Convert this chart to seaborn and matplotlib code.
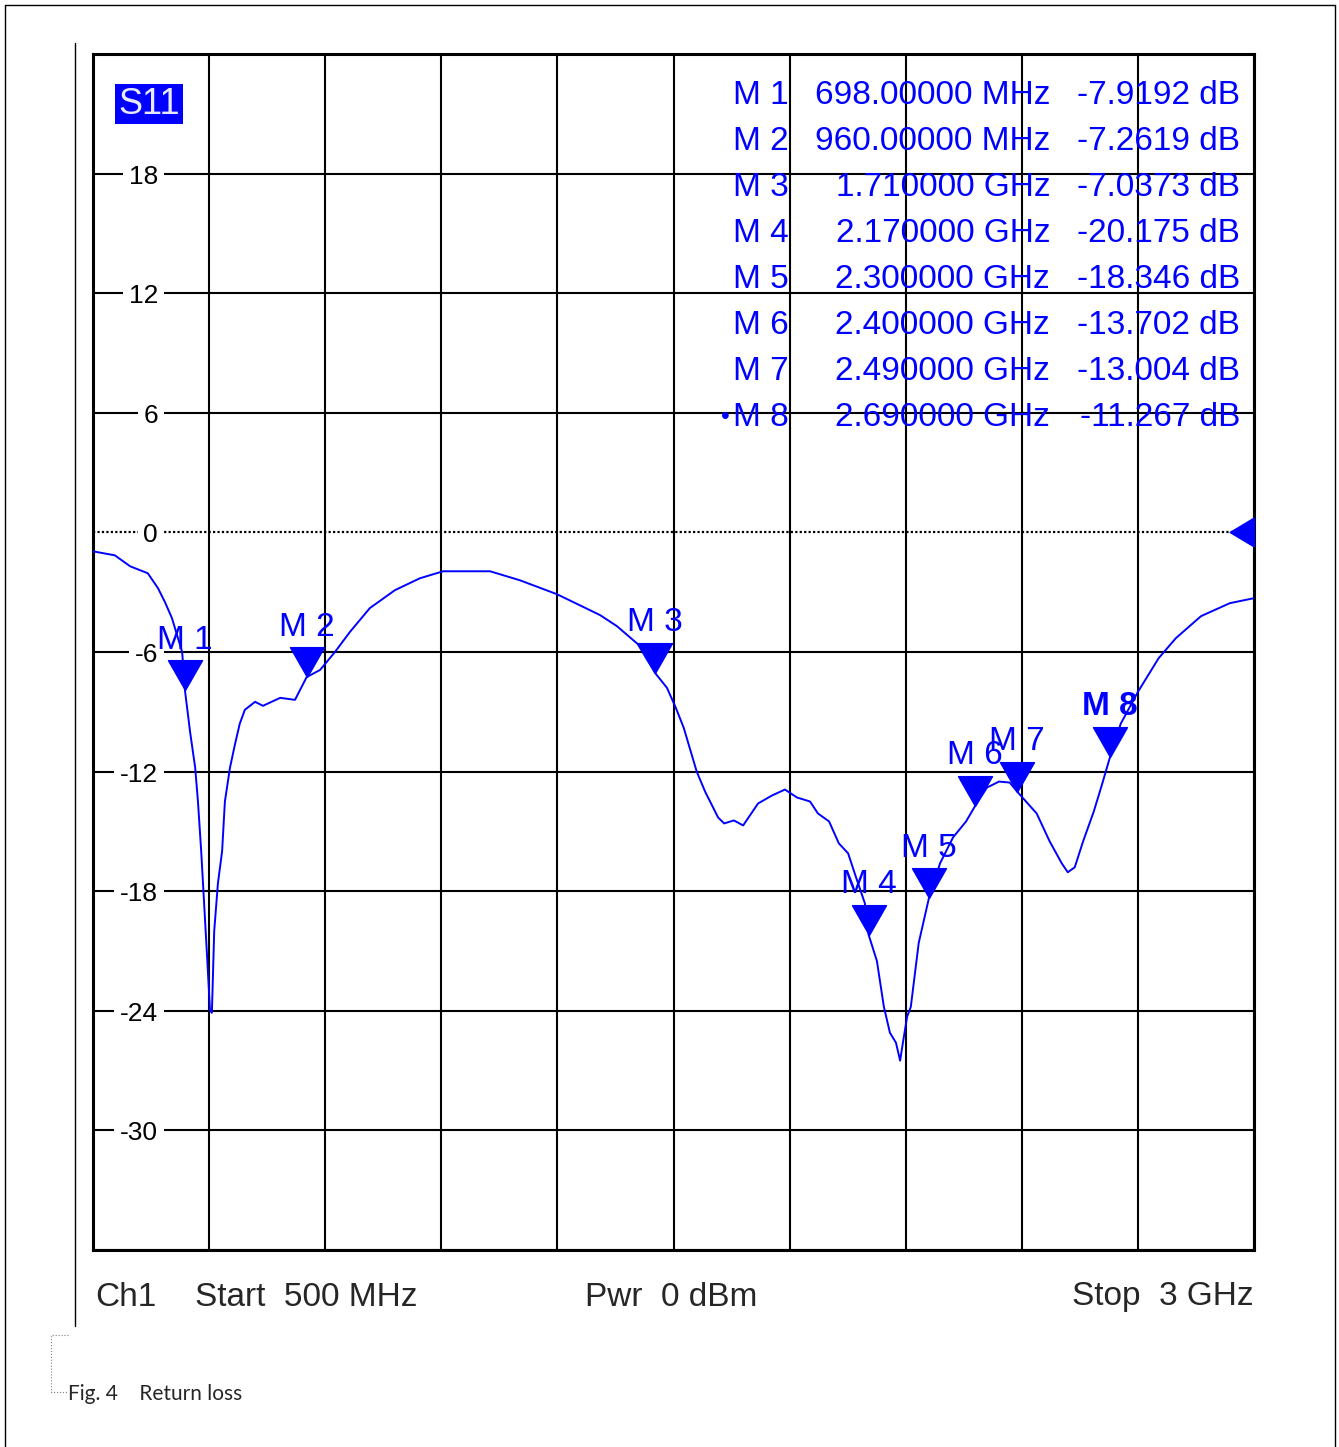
import numpy as np
import pandas as pd
import matplotlib
matplotlib.use("Agg")
import matplotlib.pyplot as plt
from matplotlib.lines import Line2D
import seaborn as sns

# Style
sns.set_theme(style="white")
plt.rcParams['font.family'] = ['Liberation Sans', 'DejaVu Sans']

# S11 trace (MHz, dB)
freq_mhz = [500, 547, 580, 618, 640, 655, 670, 692, 698, 709, 720, 726, 733, 739,
            745, 752, 756, 761, 769, 778, 784, 795, 806, 816, 827, 849, 866, 903,
            935, 960, 989, 1021, 1053, 1096, 1150, 1204, 1254, 1355, 1419, 1499,
            1592, 1628, 1673, 1710, 1736, 1755, 1772, 1800, 1818, 1846, 1859, 1880,
            1900, 1932, 1962, 1990, 2016, 2044, 2061, 2085, 2106, 2126, 2143, 2162,
            2170, 2188, 2203, 2216, 2229, 2238, 2244, 2253, 2261, 2278, 2300, 2324,
            2352, 2380, 2400, 2425, 2451, 2474, 2490, 2532, 2560, 2586, 2599, 2614,
            2632, 2655, 2672, 2690, 2713, 2750, 2795, 2832, 2886, 2948, 3000]
s11_db = [-0.95, -1.15, -1.7, -2.05, -2.8, -3.5, -4.3, -6.0, -7.92, -10.0, -11.8,
          -13.5, -16.0, -18.5, -21.0, -24.0, -24.1, -20.0, -17.6, -16.0, -13.5,
          -11.8, -10.6, -9.6, -8.9, -8.5, -8.7, -8.3, -8.4, -7.26, -6.9, -6.0,
          -5.0, -3.8, -2.9, -2.3, -1.95, -1.95, -2.4, -3.1, -4.15, -4.7, -5.6,
          -7.04, -7.8, -8.8, -9.8, -12.0, -13.0, -14.3, -14.6, -14.45, -14.7,
          -13.6, -13.2, -12.9, -13.3, -13.5, -14.1, -14.5, -15.6, -16.1, -17.3,
          -18.6, -20.175, -21.5, -23.8, -25.1, -25.6, -26.5, -25.6, -24.3, -23.8,
          -20.6, -18.346, -16.6, -15.3, -14.5, -13.702, -12.8, -12.5, -12.55,
          -13.004, -14.1, -15.5, -16.6, -17.05, -16.8, -15.5, -14.0, -12.7,
          -11.267, -9.6, -8.0, -6.3, -5.3, -4.2, -3.55, -3.3]

# Markers
marker_names = ["M 1", "M 2", "M 3", "M 4", "M 5", "M 6", "M 7", "M 8"]
marker_freq = [698, 960, 1710, 2170, 2300, 2400, 2490, 2690]
marker_db = [-7.9192, -7.2619, -7.0373, -20.175, -18.346, -13.702, -13.004, -11.267]
marker_freq_text = ["698.00000 MHz", "960.00000 MHz", "1.710000 GHz", "2.170000 GHz",
                    "2.300000 GHz", "2.400000 GHz", "2.490000 GHz", "2.690000 GHz"]
marker_db_text = ["-7.9192 dB", "-7.2619 dB", "-7.0373 dB", "-20.175 dB",
                  "-18.346 dB", "-13.702 dB", "-13.004 dB", "-11.267 dB"]

y_labels = [18, 12, 6, 0, -6, -12, -18, -24, -30]

W, H = 1339, 1447
BLUE = "#0000ff"


def fx(px):
    return px / W


def fy(py):
    return 1 - py / H


fig = plt.figure(figsize=(W / 100, H / 100), dpi=100)
ax = fig.add_axes([fx(93), fy(1250), 1161 / W, 1196 / H])

df = pd.DataFrame({"freq": freq_mhz, "db": s11_db})
sns.lineplot(data=df, x="freq", y="db", ax=ax, color=BLUE, lw=1.4, zorder=3)

ax.set_xlim(500, 3000)
ax.set_ylim(-36, 24)
ax.set_xticks(np.arange(500, 3001, 250))
ax.set_yticks(np.arange(-36, 25, 6))
ax.grid(True, color="black", lw=1.5)
ax.set_axisbelow(True)
ax.tick_params(labelbottom=False, labelleft=False, length=0)
ax.set_xlabel("")
ax.set_ylabel("")
# zero reference line is dotted
for v, gl in zip(np.arange(-36, 25, 6), ax.yaxis.get_gridlines()):
    if v == 0:
        gl.set_linestyle((0, (1, 1)))
        gl.set_linewidth(1.6)
for s in ax.spines.values():
    s.set_color("black")
    s.set_linewidth(2.2)

# y labels drawn inside the grid
for v in y_labels:
    ax.text((158 - 93) / 1161, v - 0.15, str(v), transform=ax.get_yaxis_transform(),
            ha="right", va="center", fontsize=19, color="black", zorder=4,
            bbox=dict(facecolor="white", edgecolor="none", pad=4))

# marker triangles with the tip on the trace
tip_down = [(0, 0), (-0.57, 1), (0.57, 1), (0, 0)]
ax.plot(marker_freq, marker_db, ls="none", marker=tip_down, ms=43,
        color=BLUE, zorder=5, clip_on=False)
for name, f, d in zip(marker_names, marker_freq, marker_db):
    ax.annotate(name, (f, d), xytext=(0, 36), textcoords="offset points",
                ha="center", va="center", fontsize=24, color=BLUE,
                fontweight="bold" if name == "M 8" else "normal", zorder=6)

# reference level arrow on the right edge
ref_tri = [(0, -0.6), (0, 0.6), (-1, 0), (0, -0.6)]
ax.plot([3000], [0], ls="none", marker=ref_tri, ms=35, color=BLUE,
        zorder=5, clip_on=False)

# marker table
for i in range(len(marker_names)):
    py = 95 + 46.1 * i
    fig.text(fx(733), fy(py), marker_names[i], ha="left", va="center",
             fontsize=24, color=BLUE)
    fig.text(fx(1050), fy(py), marker_freq_text[i], ha="right", va="center",
             fontsize=24, color=BLUE)
    fig.text(fx(1240), fy(py), marker_db_text[i], ha="right", va="center",
             fontsize=24, color=BLUE)
fig.text(fx(725), fy(417), "\u2022", ha="center", va="center", fontsize=18, color=BLUE)

# S11 badge
fig.text(fx(149), fy(104), "S11", ha="center", va="center", fontsize=26,
         color="#e8e8ff", bbox=dict(facecolor=BLUE, edgecolor="none", pad=2))

# bottom status line
fig.text(fx(95), fy(1297), "Ch1", ha="left", va="center", fontsize=24)
fig.text(fx(195), fy(1297), "Start  500 MHz", ha="left", va="center", fontsize=24)
fig.text(fx(585), fy(1297), "Pwr  0 dBm", ha="left", va="center", fontsize=24)
fig.text(fx(1254), fy(1297), "Stop  3 GHz", ha="right", va="center", fontsize=24)

# page furniture
fig.add_artist(Line2D([fx(5), fx(5)], [fy(5), 0], color="black", lw=1))
fig.add_artist(Line2D([fx(5), fx(1335)], [fy(5), fy(5)], color="black", lw=1))
fig.add_artist(Line2D([fx(1335), fx(1335)], [fy(5), 0], color="black", lw=1))
fig.add_artist(Line2D([fx(75), fx(75)], [fy(43), fy(1326)], color="black", lw=1))
fig.add_artist(Line2D([fx(68), fx(51), fx(51), fx(68)],
                      [fy(1335), fy(1335), fy(1392), fy(1392)],
                      color="gray", lw=0.8, ls=":"))
fig.text(fx(68), fy(1394), "Fig. 4    Return loss", ha="left", va="center",
         fontsize=15, family=["Lato", "DejaVu Sans"])

fig.savefig("out.png", dpi=100, facecolor="white")
